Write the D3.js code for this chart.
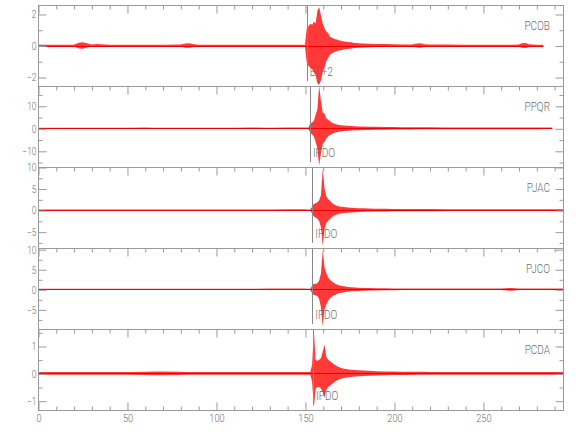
<!DOCTYPE html>
<html><head><meta charset="utf-8">
<script src="https://cdn.jsdelivr.net/npm/d3@7"></script>
<style>body{margin:0;background:#fff}</style>
</head><body><svg id="c" width="580" height="440"></svg>
<script>
// ---------- data ----------
const stations = ["PCOB", "PPQR", "PJAC", "PJCO", "PCDA"];
const pickTimes = [151.0, 152.8, 154.1, 154.1, 154.6];
const pickLabels = ["EP+2", "IPDO", "IPDO", "IPDO", "IPDO"];
const endTimes = [284, 289, 295, 295, 295];
const yDomains = [[-2.57, 2.57], [-17.2, 18.8], [-8.8, 10], [-9.9, 10.3], [-1.34, 1.62]];
const yMajorSteps = [2, 10, 5, 5, 1];
const yMinorSteps = [1, 5, 2.5, 2.5, 0.5];
const xMajorTicks = [0, 50, 100, 150, 200, 250];
const xMinorStep = 10;

// envelope sample times (s)
const times = [0,10,20,23,25,27,30,33,40,50,60,66,70,80,83,85,87,90,100,110,120,130,140,146,150,
  151,152,153,154,155,156,157,158,159,160,161,162,163,164,165,166,167,168,169,170,172,174,176,178,180,183,186,190,195,200,
  205,210,213,215,217,220,230,240,250,260,266,270,272,274,276,280,284,289,295];

// upper / lower envelopes
const pcobHi = [.04,.04,.05,.18,.2,.16,.06,.1,.05,.04,.05,.05,.04,.06,.13,.15,.1,.05,.04,.04,.04,.05,.05,.05,.05,
  1.1,1.2,1.4,1.3,1.5,1.4,2.2,2.45,1.9,1.4,1.1,.9,.8,.55,.5,.45,.4,.38,.33,.3,.26,.22,.2,.16,.14,.12,.11,.1,.09,.08,
  .07,.07,.13,.15,.08,.06,.06,.05,.05,.05,.05,.07,.14,.16,.08,.05,.05,.04,.04];
const pcobLo = [-.04,-.04,-.05,-.19,-.2,-.15,-.06,-.1,-.05,-.04,-.05,-.05,-.04,-.06,-.14,-.15,-.1,-.05,-.04,-.04,-.04,-.05,-.05,-.05,-.05,
  -1.1,-1.3,-1.4,-1.5,-1.7,-1.9,-2.4,-2.5,-2.2,-1.7,-1.4,-1.0,-.8,-.6,-.5,-.45,-.4,-.36,-.32,-.3,-.25,-.22,-.19,-.16,-.14,-.12,-.11,-.1,-.09,-.08,
  -.07,-.07,-.13,-.15,-.08,-.06,-.06,-.05,-.05,-.05,-.05,-.07,-.14,-.16,-.08,-.05,-.05,-.04,-.04];
const ppqrHi = [.3,.3,.3,.3,.3,.3,.3,.3,.3,.3,.35,.3,.3,.3,.3,.3,.3,.3,.3,.3,.35,.3,.35,.35,.35,
  .35,.4,2.2,2.6,3.2,6,8.5,19,12,7,6.5,4.5,3.8,3.2,2.6,2.2,1.9,1.7,1.5,1.4,1.2,1.1,1,.9,.85,.8,.7,.65,.6,.55,
  .5,.5,.45,.45,.45,.45,.4,.4,.4,.4,.4,.4,.4,.4,.4,.4,.35,.35,.35];
const ppqrLo = [-.3,-.3,-.3,-.3,-.3,-.3,-.3,-.3,-.3,-.3,-.35,-.3,-.3,-.3,-.3,-.3,-.3,-.3,-.3,-.3,-.35,-.3,-.35,-.35,-.35,
  -.35,-.4,-2,-2.8,-3.5,-6,-9,-16.5,-11,-7,-6,-4.5,-3.6,-3,-2.6,-2.2,-1.9,-1.7,-1.5,-1.4,-1.2,-1.1,-1,-.9,-.85,-.8,-.7,-.65,-.6,-.55,
  -.5,-.5,-.45,-.45,-.45,-.45,-.4,-.4,-.4,-.4,-.4,-.4,-.4,-.4,-.4,-.4,-.35,-.35,-.35];
const pjacHi = [.15,.15,.15,.15,.15,.15,.15,.15,.15,.15,.15,.15,.15,.15,.15,.15,.15,.15,.15,.15,.15,.15,.18,.18,.18,
  .15,.15,.15,.8,1.4,1.6,1.8,2.3,3.5,9.6,5,3.2,2.6,2.2,1.7,1.4,1.2,1,.9,.8,.7,.6,.55,.5,.45,.4,.35,.3,.3,.28,
  .25,.25,.25,.25,.25,.25,.22,.22,.2,.2,.2,.2,.2,.2,.2,.2,.2,.2,.2];
const pjacLo = [-.15,-.15,-.15,-.15,-.15,-.15,-.15,-.15,-.15,-.15,-.15,-.15,-.15,-.15,-.15,-.15,-.15,-.15,-.15,-.15,-.15,-.15,-.18,-.18,-.18,
  -.15,-.15,-.15,-.8,-1.5,-1.7,-2,-2.6,-4,-8.3,-4.5,-3,-2.5,-2.1,-1.7,-1.4,-1.2,-1,-.9,-.8,-.7,-.6,-.55,-.5,-.45,-.4,-.35,-.3,-.3,-.28,
  -.25,-.25,-.25,-.25,-.25,-.25,-.22,-.22,-.2,-.2,-.2,-.2,-.2,-.2,-.2,-.2,-.2,-.2,-.2];
const pjcoHi = [.15,.15,.15,.15,.15,.15,.15,.15,.15,.15,.15,.15,.15,.15,.15,.15,.15,.15,.15,.15,.15,.18,.18,.18,.18,
  .15,.15,.15,.9,1.3,1.4,1.5,2.2,4,9.8,5.5,4,3,2.4,2,1.7,1.4,1.2,1,.9,.75,.6,.5,.45,.4,.35,.3,.28,.25,.22,
  .2,.2,.2,.2,.2,.2,.2,.2,.2,.2,.35,.2,.2,.2,.2,.2,.2,.2,.2];
const pjcoLo = [-.15,-.15,-.15,-.15,-.15,-.15,-.15,-.15,-.15,-.15,-.15,-.15,-.15,-.15,-.15,-.15,-.15,-.15,-.15,-.15,-.15,-.18,-.18,-.18,-.18,
  -.15,-.15,-.15,-.9,-1.4,-1.5,-1.7,-2.5,-4.5,-9.3,-5,-3.8,-2.9,-2.3,-1.9,-1.6,-1.4,-1.2,-1,-.9,-.75,-.6,-.5,-.45,-.4,-.35,-.3,-.28,-.25,-.22,
  -.2,-.2,-.2,-.2,-.2,-.2,-.2,-.2,-.2,-.2,-.35,-.2,-.2,-.2,-.2,-.2,-.2,-.2,-.2];
const pcdaHi = [.05,.05,.05,.05,.05,.05,.05,.05,.05,.05,.06,.07,.07,.06,.05,.05,.05,.05,.05,.05,.05,.05,.05,.05,.05,
  .05,.05,.05,.3,1.55,.5,.45,.5,.55,.8,1.05,.6,.5,.45,.4,.35,.3,.26,.23,.2,.17,.15,.13,.12,.11,.1,.09,.08,.07,.065,
  .06,.06,.055,.055,.055,.05,.05,.05,.05,.05,.05,.05,.05,.05,.05,.05,.05,.05,.05];
const pcdaLo = [-.05,-.05,-.05,-.05,-.05,-.05,-.05,-.05,-.05,-.05,-.06,-.07,-.07,-.06,-.05,-.05,-.05,-.05,-.05,-.05,-.05,-.05,-.05,-.05,-.05,
  -.05,-.05,-.05,-.3,-1.25,-.55,-.5,-.5,-.55,-.7,-.88,-.6,-.5,-.45,-.4,-.35,-.3,-.26,-.23,-.2,-.17,-.15,-.13,-.12,-.11,-.1,-.09,-.08,-.07,-.065,
  -.06,-.06,-.055,-.055,-.055,-.05,-.05,-.05,-.05,-.05,-.05,-.05,-.05,-.05,-.05,-.05,-.05,-.05,-.05];

const highs = [pcobHi, ppqrHi, pjacHi, pjcoHi, pcdaHi];
const lows = [pcobLo, ppqrLo, pjacLo, pjcoLo, pcdaLo];

// ---------- layout ----------
const left = 38, right = 563, top0 = 5, panelH = 81;
const axisColor = "#9a9a9a", textColor = "#6e6e6e";
const font = "Roboto, 'DejaVu Sans', sans-serif";
const x = d3.scaleLinear().domain([0, 295]).range([left, right]);
const svg = d3.select("#c");
const defs = svg.append("defs");

function stepValues(d0, d1, step) {
  return d3.range(Math.ceil(d0 / step - 1e-9), Math.floor(d1 / step + 1e-9) + 1).map(k => +(k * step).toFixed(6));
}
const xMinor = stepValues(0, 295, xMinorStep).filter(v => !xMajorTicks.includes(v));

function styleAxis(g, fs) {
  g.select(".domain").remove();
  g.selectAll("line").attr("stroke", axisColor).attr("stroke-width", 1);
  g.selectAll("text").attr("fill", textColor).style("font-family", font)
    .style("font-size", fs + "px").style("font-weight", 300);
}

stations.forEach((name, i) => {
  const top = top0 + i * panelH, bot = top + panelH;
  const y = d3.scaleLinear().domain(yDomains[i]).range([bot, top]);
  const [d0, d1] = yDomains[i];
  const majors = stepValues(d0, d1, yMajorSteps[i]);
  const minors = stepValues(d0, d1, yMinorSteps[i]).filter(v => !majors.some(m => Math.abs(m - v) < 1e-6));

  defs.append("clipPath").attr("id", "clip" + i)
    .append("rect").attr("x", left).attr("y", top).attr("width", right - left).attr("height", panelH);

  const data = times.map((t, k) => ({ t, hi: highs[i][k], lo: lows[i][k] })).filter(d => d.t <= endTimes[i]);
  const trace = svg.append("g").attr("clip-path", `url(#clip${i})`);
  const area = d3.area().x(d => x(d.t)).y0(d => y(d.lo)).y1(d => y(d.hi));
  trace.append("path").datum(data).attr("d", area)
    .attr("fill", "#ff0000").attr("fill-opacity", 0.78).attr("stroke", "none");
  trace.append("line")
    .attr("x1", x(0)).attr("x2", x(endTimes[i])).attr("y1", Math.round(y(0)) + 0.5).attr("y2", Math.round(y(0)) + 0.5)
    .attr("stroke", "#f00000").attr("stroke-width", 1);

  // pick marker
  svg.append("line")
    .attr("x1", Math.round(x(pickTimes[i])) + 0.5).attr("x2", Math.round(x(pickTimes[i])) + 0.5)
    .attr("y1", top + 1).attr("y2", bot - 5)
    .attr("stroke", "#888").attr("stroke-width", 1);
  svg.append("text").attr("class", "lbl").text(pickLabels[i])
    .attr("x", x(pickTimes[i]) + 3).attr("y", top + 70.7)
    .attr("fill", textColor).style("font-family", font).style("font-size", "12.5px").style("font-weight", 300);

  // station name
  svg.append("text").attr("class", "lbl").text(name)
    .attr("x", 550).attr("y", top + 24.5).attr("text-anchor", "end")
    .attr("fill", textColor).style("font-family", font).style("font-size", "12.5px").style("font-weight", 300);

  // frame
  svg.append("rect").attr("x", left + 0.5).attr("y", top + 0.5).attr("width", right - left).attr("height", panelH)
    .attr("fill", "none").attr("stroke", axisColor).attr("stroke-width", 1);

  // left axis
  const gl = svg.append("g").attr("transform", `translate(${left + 0.5},0.5)`)
    .call(d3.axisLeft(y).tickValues(majors).tickSize(-8).tickSizeOuter(0).tickPadding(2).tickFormat(d3.format("~g")));
  styleAxis(gl, 10.5);
  const glm = svg.append("g").attr("transform", `translate(${left + 0.5},0.5)`)
    .call(d3.axisLeft(y).tickValues(minors).tickSize(-4).tickSizeOuter(0).tickFormat(""));
  styleAxis(glm, 10);
  // right axis
  const gr = svg.append("g").attr("transform", `translate(${right + 0.5},0.5)`)
    .call(d3.axisRight(y).tickValues(majors).tickSize(-8).tickSizeOuter(0).tickFormat(""));
  styleAxis(gr, 10);
  const grm = svg.append("g").attr("transform", `translate(${right + 0.5},0.5)`)
    .call(d3.axisRight(y).tickValues(minors).tickSize(-4).tickSizeOuter(0).tickFormat(""));
  styleAxis(grm, 10);

  // top x ticks (pointing down)
  const gt = svg.append("g").attr("transform", `translate(0.5,${top + 0.5})`)
    .call(d3.axisTop(x).tickValues(xMajorTicks).tickSize(-8).tickSizeOuter(0).tickFormat(""));
  styleAxis(gt, 10);
  const gtm = svg.append("g").attr("transform", `translate(0.5,${top + 0.5})`)
    .call(d3.axisTop(x).tickValues(xMinor).tickSize(-4).tickSizeOuter(0).tickFormat(""));
  styleAxis(gtm, 10);

  if (i === stations.length - 1) {
    const gb = svg.append("g").attr("transform", `translate(0.5,${bot + 0.5})`)
      .call(d3.axisBottom(x).tickValues(xMajorTicks).tickSize(-8).tickSizeOuter(0).tickPadding(3).tickFormat(d3.format("d")));
    styleAxis(gb, 11.5);
    const gbm = svg.append("g").attr("transform", `translate(0.5,${bot + 0.5})`)
      .call(d3.axisBottom(x).tickValues(xMinor).tickSize(-4).tickSizeOuter(0).tickFormat(""));
    styleAxis(gbm, 10);
  }
});

// condense all text horizontally to mimic the narrow plotting font
svg.selectAll("text").each(function () {
  const w = this.getComputedTextLength();
  if (w > 0) d3.select(this).attr("textLength", (w * 0.8).toFixed(2)).attr("lengthAdjust", "spacingAndGlyphs");
});
</script>
</body></html>
